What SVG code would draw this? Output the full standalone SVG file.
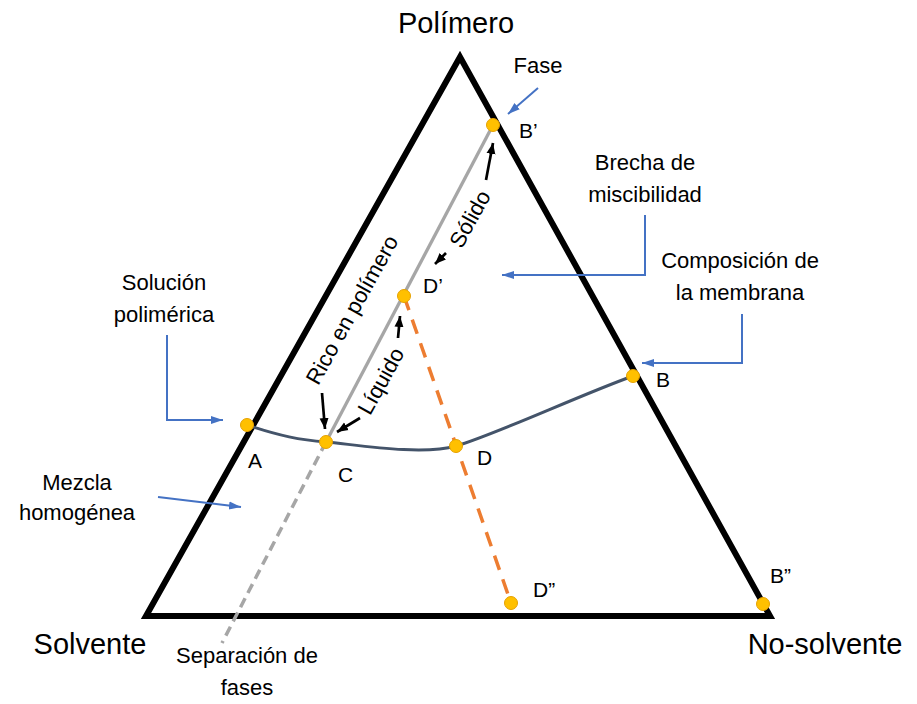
<svg xmlns="http://www.w3.org/2000/svg" width="917" height="704" viewBox="0 0 917 704">
<defs>
<style>
text{font-family:"Liberation Sans",Arial,sans-serif;fill:#000}
.big{font-size:29px}
.lbl{font-size:22px;text-anchor:middle}
.pt{font-size:21px}
.rot{font-size:22px;text-anchor:middle}
.blue{fill:none;stroke:#4472C4;stroke-width:2}
.blk{fill:none;stroke:#000;stroke-width:2.7}
.dot{fill:#FFC000;stroke:#E6A100;stroke-width:1}
</style>
<marker id="bh" markerUnits="userSpaceOnUse" markerWidth="14" markerHeight="12" refX="12" refY="5" orient="auto" viewBox="0 0 14 10">
<path d="M0,1 L12,5 L0,9 Z" fill="#4472C4"/>
</marker>
<marker id="kh" markerUnits="userSpaceOnUse" markerWidth="12" markerHeight="10" refX="11" refY="5" orient="auto" viewBox="0 0 12 10">
<path d="M0,0.5 L11,5 L0,9.5 Z" fill="#000"/>
</marker>
</defs>
<rect width="917" height="704" fill="#fff"/>

<g id="triangle">
<path d="M460,57 L770,616 L146,616 Z" fill="none" stroke="#000" stroke-width="6" stroke-linejoin="miter"/>
</g>

<g id="connectors">
<line x1="493" y1="125" x2="326" y2="442" stroke="#A6A6A6" stroke-width="3.3"/>
<line x1="326" y1="442" x2="222" y2="643" stroke="#A6A6A6" stroke-width="3.5" stroke-dasharray="10,6"/>
<line x1="404" y1="296" x2="511" y2="603" stroke="#ED7D31" stroke-width="3.5" stroke-dasharray="15,10"/>
<path d="M247,425 C280,436 300,440 326,442 C352,444 420,456 456,446 C492,436 580,395 633,376" fill="none" stroke="#44546A" stroke-width="3"/>
<line class="blue" x1="538" y1="88" x2="508" y2="114" marker-end="url(#bh)"/>
<polyline class="blue" points="645,215 645,275 502,275" marker-end="url(#bh)"/>
<polyline class="blue" points="742,314 742,363 642,363" marker-end="url(#bh)"/>
<polyline class="blue" points="167,335 167,420 223,420" marker-end="url(#bh)"/>
<line class="blue" x1="158" y1="497" x2="241" y2="507" marker-end="url(#bh)"/>
<line class="blk" x1="486" y1="180" x2="493" y2="143" marker-end="url(#kh)"/>
<line class="blk" x1="446" y1="253" x2="435" y2="264" marker-end="url(#kh)"/>
<line class="blk" x1="398" y1="338" x2="400" y2="316" marker-end="url(#kh)"/>
<line class="blk" x1="322" y1="393" x2="325" y2="429" marker-end="url(#kh)"/>
<line class="blk" x1="360" y1="418" x2="337" y2="432" marker-end="url(#kh)"/>
</g>

<g id="point-Bp"><circle class="dot" cx="493" cy="125" r="6.5"/><text class="pt" x="519" y="138">B’</text></g>
<g id="point-Dp"><circle class="dot" cx="404" cy="296" r="6.5"/><text class="pt" x="423" y="293">D’</text></g>
<g id="point-A"><circle class="dot" cx="247" cy="425" r="6.5"/><text class="pt" x="248" y="468">A</text></g>
<g id="point-C"><circle class="dot" cx="326" cy="442" r="6.5"/><text class="pt" x="338" y="482">C</text></g>
<g id="point-D"><circle class="dot" cx="456" cy="446" r="6.5"/><text class="pt" x="477" y="465">D</text></g>
<g id="point-B"><circle class="dot" cx="633" cy="376" r="6.5"/><text class="pt" x="656" y="387">B</text></g>
<g id="point-Dpp"><circle class="dot" cx="511" cy="603" r="6.5"/><text class="pt" x="533" y="597">D”</text></g>
<g id="point-Bpp"><circle class="dot" cx="763" cy="604" r="6.5"/><text class="pt" x="770" y="583">B”</text></g>

<g id="vertex-polimero"><text class="big" x="456" y="33" text-anchor="middle">Polímero</text></g>
<g id="vertex-solvente"><text class="big" x="90" y="654" text-anchor="middle">Solvente</text></g>
<g id="vertex-nosolvente"><text class="big" x="825" y="654" text-anchor="middle">No-solvente</text></g>

<g id="label-fase"><text class="lbl" x="538" y="73">Fase</text></g>
<g id="label-brecha"><text class="lbl" x="645" y="170">Brecha de</text><text class="lbl" x="645" y="202">miscibilidad</text></g>
<g id="label-composicion"><text class="lbl" x="740" y="268">Composición de</text><text class="lbl" x="740" y="300">la membrana</text></g>
<g id="label-solucion"><text class="lbl" x="164" y="290">Solución</text><text class="lbl" x="164" y="322">polimérica</text></g>
<g id="label-mezcla"><text class="lbl" x="77" y="490">Mezcla</text><text class="lbl" x="77" y="520">homogénea</text></g>
<g id="label-separacion"><text class="lbl" x="247" y="663">Separación de</text><text class="lbl" x="247" y="695">fases</text></g>

<g id="label-rico"><text class="rot" transform="translate(352,310) rotate(-61)" y="7.5">Rico en polímero</text></g>
<g id="label-liquido"><text class="rot" transform="translate(381,381) rotate(-61)" y="7.5">Líquido</text></g>
<g id="label-solido"><text class="rot" transform="translate(470,219) rotate(-61)" y="7.5">Sólido</text></g>
</svg>
